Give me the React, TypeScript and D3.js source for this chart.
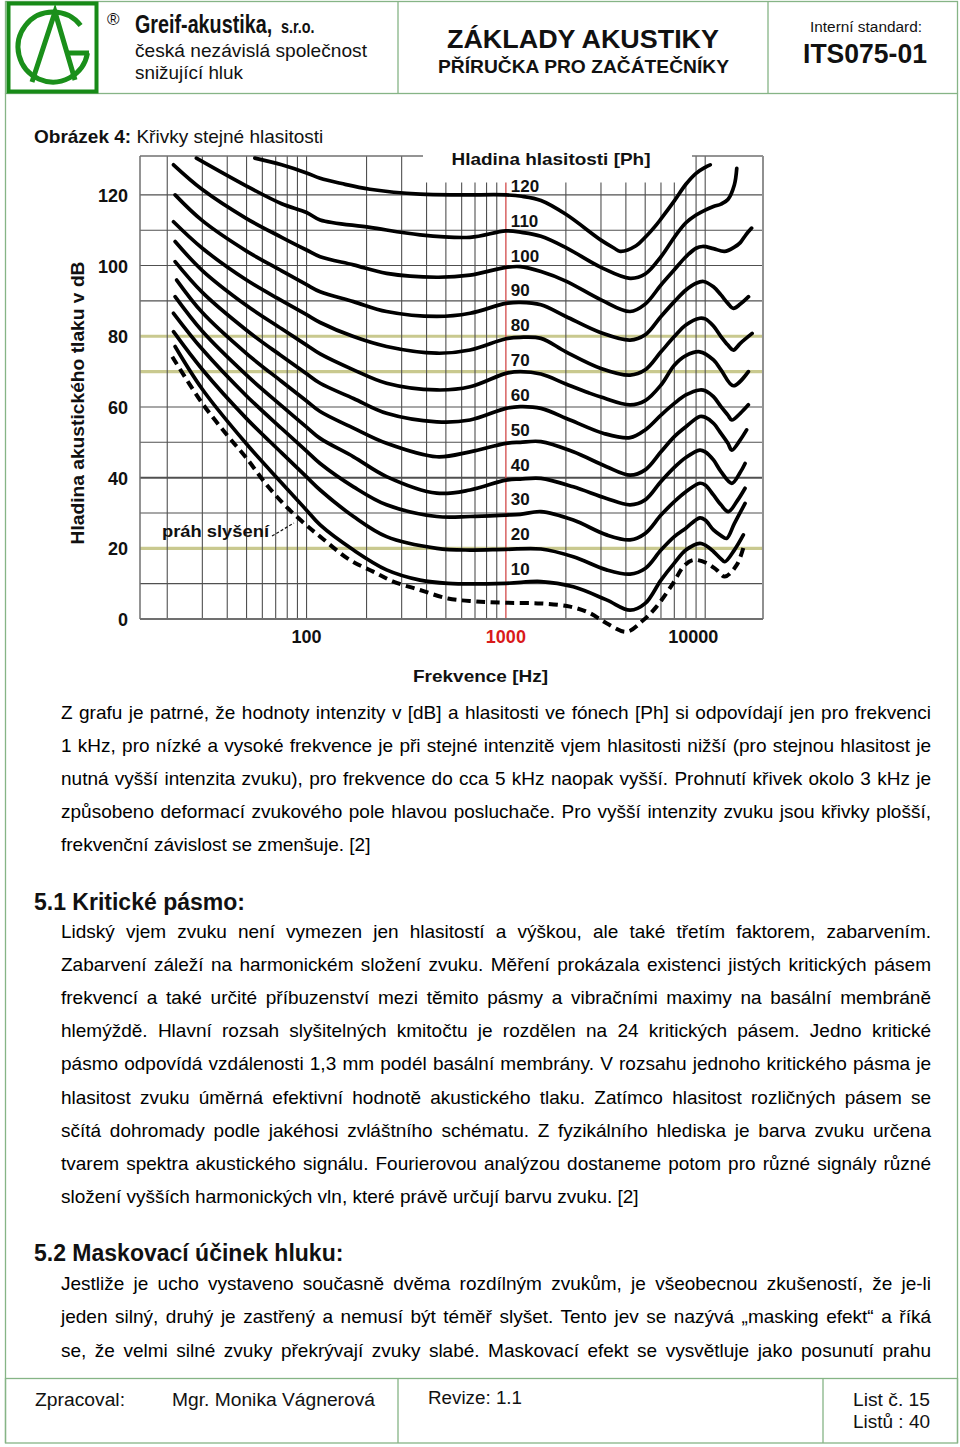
import React, { useLayoutEffect, useRef, useState } from "react";
import * as d3 from "d3";

// ---------- DATA ----------
type Pt = [number, number]; // [frequency Hz, sound pressure level dB]

const phonLevels = [120, 110, 100, 90, 80, 70, 60, 50, 40, 30, 20, 10];

const phon120: Pt[] = [[55,130.4],[75,128.5],[100,126.2],[117,124.7],[150,123.2],[208,121.6],[371,120.2],[600,120.0],[1000,120.0],[1200,119.6],[1500,118.4],[2000,114.5],[3000,107.2],[3500,104.9],[3750,104.0],[4500,105.6],[5000,108.0],[5700,111.6],[6000,113.2],[7000,118.3],[8000,123.0],[9000,126.1],[10000,127.8],[10600,128.5]];
const phon110: Pt[] = [[28,130.4],[50,122.5],[75,117.5],[100,115.0],[117,112.9],[208,110.8],[371,108.7],[661,108.0],[1000,109.8],[1200,109.4],[1500,108.3],[2000,105.1],[3000,99.5],[4200,96.4],[5000,97.6],[6000,102.5],[7000,108.0],[8000,112.1],[9000,114.3],[10000,115.7],[11000,116.7],[12000,117.4],[13000,118.7],[14000,122.8],[14400,127.5]];
const phon100: Pt[] = [[21.5,128.5],[30,121.5],[50,113.3],[75,108.0],[100,104.4],[117,102.5],[172,100.2],[252,97.8],[450,96.7],[661,97.3],[1000,99.5],[1180,99.7],[1500,98.3],[2000,95.6],[3000,90.3],[4200,87.0],[5000,89.1],[6000,94.5],[7000,98.8],[8000,102.5],[9000,104.9],[9700,105.4],[11000,104.8],[12500,104.0],[14000,105.2],[15000,106.5],[16000,108.7],[17100,110.6]];
const phon90: Pt[] = [[21.9,120.0],[30,112.7],[50,104.1],[75,98.5],[100,94.6],[117,92.6],[172,89.8],[252,87.0],[450,85.6],[661,86.5],[1000,89.3],[1180,89.6],[1500,88.9],[2000,85.6],[3000,81.0],[4200,78.9],[5000,80.4],[6000,85.6],[7000,89.8],[8000,93.1],[9000,95.0],[9800,95.5],[11000,94.0],[12000,91.7],[13000,89.3],[13850,87.9],[15000,89.1],[16500,91.2]];
const phon80: Pt[] = [[21.5,112.4],[30,104.9],[50,95.9],[75,90.1],[100,86.1],[117,83.9],[172,79.9],[252,77.1],[450,75.2],[661,76.1],[1000,79.3],[1180,79.7],[1500,79.4],[2000,75.6],[3000,70.9],[4200,69.0],[5000,70.5],[6000,75.6],[7000,79.9],[8000,83.2],[9400,85.1],[10000,84.9],[11000,82.9],[12000,79.9],[13000,77.5],[13850,76.1],[15000,78.0],[17200,80.8]];
const phon70: Pt[] = [[21.9,106.8],[30,98.6],[50,88.7],[75,82.1],[100,77.5],[117,75.0],[172,70.5],[252,66.7],[450,64.8],[661,65.7],[1000,69.5],[1180,70.0],[1500,69.3],[2000,66.5],[2600,64.0],[3000,62.8],[4200,60.6],[5000,61.8],[6000,66.2],[7000,71.8],[8000,74.5],[9400,75.6],[11000,73.3],[12000,70.5],[13850,66.0],[16470,70.0]];
const phon60: Pt[] = [[21.9,101.1],[30,92.4],[50,81.7],[75,74.4],[100,69.4],[117,66.7],[172,62.4],[252,58.2],[450,55.8],[661,56.3],[1000,59.6],[1180,60.1],[1500,59.6],[2100,56.3],[3100,52.5],[4200,51.3],[5000,53.5],[6000,57.7],[7000,61.0],[8000,63.4],[9400,64.8],[10000,64.6],[11000,62.9],[12000,60.1],[13000,57.7],[13600,56.3],[15000,58.2],[16470,60.6]];
const phon50: Pt[] = [[22.3,95.9],[30,86.7],[50,75.1],[75,67.2],[100,61.7],[117,58.7],[172,54.0],[252,49.7],[450,45.9],[661,47.3],[1000,49.7],[1180,50.0],[1500,50.2],[2180,47.3],[3200,43.1],[4200,40.7],[5000,42.2],[6000,47.3],[7000,51.6],[8000,54.4],[9400,57.3],[10000,57.1],[11000,55.4],[12000,52.5],[13000,49.7],[13600,47.8],[15000,50.7],[16140,53.5]];
const phon40: Pt[] = [[21.9,91.2],[30,81.4],[50,69.0],[75,60.3],[100,54.3],[117,51.1],[172,45.9],[252,40.3],[450,35.6],[661,36.5],[1000,39.3],[1180,39.6],[1500,39.8],[2180,37.4],[3200,34.1],[4200,32.3],[5000,33.7],[6000,38.9],[7000,42.9],[8000,45.7],[9400,47.8],[10000,47.3],[11000,45.0],[12000,41.7],[13600,38.4],[15000,41.5],[15850,44.0]];
const phon30: Pt[] = [[21.5,86.5],[30,76.3],[50,63.1],[75,53.9],[100,47.5],[117,44.0],[172,37.4],[252,32.3],[450,29.0],[661,29.0],[1000,29.4],[1180,29.6],[1500,30.4],[2180,28.0],[3200,23.8],[4200,22.4],[5000,24.2],[6000,29.4],[7000,33.2],[8000,36.0],[9400,38.4],[10000,37.9],[11000,35.1],[12000,32.3],[13070,30.4],[14500,33.5],[15850,37.0]];
const phon20: Pt[] = [[21.5,81.3],[30,70.6],[50,56.7],[75,47.0],[100,40.2],[117,36.5],[172,29.0],[252,23.3],[450,20.0],[661,19.5],[1000,19.7],[1500,19.8],[2180,17.6],[3200,13.9],[4200,12.7],[5000,14.3],[6000,19.5],[7000,23.3],[8000,25.7],[9400,28.6],[10000,28.0],[11000,25.2],[12000,23.6],[12800,22.8],[14000,27.0],[15850,32.7]];
const phon10: Pt[] = [[21.9,77.1],[30,65.0],[50,49.5],[75,38.5],[100,30.8],[117,26.6],[172,19.5],[252,13.9],[371,11.0],[512,10.1],[1000,10.1],[1500,10.6],[2180,9.1],[3200,5.4],[4200,2.5],[5000,4.4],[6000,11.0],[7000,15.8],[8000,19.5],[9400,21.4],[10000,20.9],[11000,19.1],[12000,17.0],[12540,16.2],[14000,19.5],[15540,23.8]];
const thresholdCurve: Pt[] = [[21.2,74.2],[30,61.0],[40,52.0],[50,45.5],[63,38.0],[80,31.5],[100,26.5],[117,23.3],[165,16.7],[216,13.4],[272,10.6],[371,8.2],[512,5.8],[700,5.0],[1000,4.6],[1500,4.4],[2100,3.5],[2650,1.6],[3200,-1.2],[4040,-3.6],[4900,-0.3],[5700,3.5],[6900,10.1],[7770,14.8],[8700,16.7],[10200,15.8],[11400,13.9],[12540,12.0],[14400,15.3],[15700,21.0]];

const contours: Pt[][] = [phon120, phon110, phon100, phon90, phon80, phon70, phon60, phon50, phon40, phon30, phon20, phon10];

const freqGridLines = [20,30,40,50,60,70,80,90,100,200,300,400,500,600,700,800,900,2000,3000,4000,5000,6000,7000,8000,9000,10000];
const referenceFreq = 1000;
const dbGridLines = [10,20,30,40,50,60,70,80,90,100,110,120];
const oliveDbLines = [20,70,80];
const yTicks = [0,20,40,60,80,100,120];
const xTicks = [100,1000,10000];

const paragraph1 = [
  "Z grafu je patrné, že hodnoty intenzity v [dB] a hlasitosti ve fónech [Ph] si odpovídají jen pro frekvenci",
  "1 kHz, pro nízké a vysoké frekvence je při stejné intenzitě vjem hlasitosti nižší (pro stejnou hlasitost je",
  "nutná vyšší intenzita zvuku), pro frekvence do cca 5 kHz naopak vyšší. Prohnutí křivek okolo 3 kHz je",
  "způsobeno deformací zvukového pole hlavou posluchače. Pro vyšší intenzity zvuku jsou křivky plošší,",
  "frekvenční závislost se zmenšuje. [2]",
];
const paragraph2 = [
  "Lidský vjem zvuku není vymezen jen hlasitostí a výškou, ale také třetím faktorem, zabarvením.",
  "Zabarvení záleží na harmonickém složení zvuku. Měření prokázala existenci jistých kritických pásem",
  "frekvencí a také určité příbuzenství mezi těmito pásmy a vibračními maximy na basální membráně",
  "hlemýždě. Hlavní rozsah slyšitelných kmitočtu je rozdělen na 24 kritických pásem. Jedno kritické",
  "pásmo odpovídá vzdálenosti 1,3 mm podél basální membrány. V rozsahu jednoho kritického pásma je",
  "hlasitost zvuku úměrná efektivní hodnotě akustického tlaku. Zatímco hlasitost rozličných pásem se",
  "sčítá dohromady podle jakéhosi zvláštního schématu. Z fyzikálního hlediska je barva zvuku určena",
  "tvarem spektra akustického signálu. Fourierovou analýzou dostaneme potom pro různé signály různé",
  "složení vyšších harmonických vln, které právě určují barvu zvuku. [2]",
];
const paragraph3 = [
  "Jestliže je ucho vystaveno současně dvěma rozdílným zvukům, je všeobecnou zkušeností, že je-li",
  "jeden silný, druhý je zastřený a nemusí být téměř slyšet. Tento jev se nazývá „masking efekt“ a říká",
  "se, že velmi silné zvuky překrývají zvuky slabé. Maskovací efekt se vysvětluje jako posunutí prahu",
];

// ---------- HELPERS ----------
const SANS = "'Liberation Sans', Arial, Helvetica, sans-serif";
const GREEN_LINE = "#86b486";
const BODY_FS = 19;

function JLine({ x, y, width, text, justify }: { x: number; y: number; width: number; text: string; justify: boolean }) {
  const ref = useRef<SVGTextElement>(null);
  const [ws, setWs] = useState(0);
  useLayoutEffect(() => {
    if (!justify || !ref.current) return;
    const natural = ref.current.getComputedTextLength();
    const spaces = (text.match(/ /g) || []).length;
    if (spaces > 0) setWs((width - natural) / spaces);
  }, [text, width, justify]);
  return (
    <text ref={ref} x={x} y={y} fontSize={BODY_FS} fontFamily={SANS} fill="#000" style={{ wordSpacing: `${ws}px` }}>
      {text}
    </text>
  );
}

function Paragraph({ lines, x, y0, lh, width, lastJustified = false }: { lines: string[]; x: number; y0: number; lh: number; width: number; lastJustified?: boolean }) {
  return (
    <g>
      {lines.map((t, i) => (
        <JLine key={i} x={x} y={y0 + i * lh} width={width} text={t} justify={lastJustified || i < lines.length - 1} />
      ))}
    </g>
  );
}

// ---------- CHART ----------
function Chart() {
  const xs = d3.scaleLog().domain([14.6, 19500]).range([140, 763]);
  const ys = d3.scaleLinear().domain([0, 131]).range([619, 156]);
  const line = d3
    .line<Pt>()
    .x((d) => xs(d[0]))
    .y((d) => ys(d[1]))
    .curve(d3.curveCatmullRom.alpha(0.5));

  const [x0, x1] = xs.range();
  const yTop = ys(131);
  const yBot = ys(0);
  const boxL = 423, boxR = 692, boxB = 182.5;
  const bold = { fontFamily: SANS, fontWeight: 700 as const };

  return (
    <g>
      <rect x={x0} y={yTop} width={x1 - x0} height={yBot - yTop} fill="#fff" />
      {/* horizontal grid */}
      {dbGridLines.map((v) => (
        <line key={"h" + v} x1={x0} x2={x1} y1={ys(v)} y2={ys(v)} stroke="#505050" strokeWidth={v === 40 ? 2 : 1.1} />
      ))}
      {oliveDbLines.map((v) => (
        <line key={"o" + v} x1={x0} x2={x1} y1={ys(v)} y2={ys(v)} stroke="#c9c98f" strokeWidth={3.2} />
      ))}
      {/* vertical grid */}
      {freqGridLines.map((f) => (
        <line key={"v" + f} x1={xs(f)} x2={xs(f)} y1={yTop} y2={yBot} stroke="#505050" strokeWidth={1.1} />
      ))}
      <line x1={xs(referenceFreq)} x2={xs(referenceFreq)} y1={yTop} y2={yBot} stroke="#d24a4a" strokeWidth={1.3} />
      {/* title box */}
      <rect x={boxL} y={yTop - 6} width={boxR - boxL} height={boxB - yTop + 6} fill="#fff" />
      {/* frame */}
      <line x1={x0} x2={boxL} y1={yTop} y2={yTop} stroke="#707070" strokeWidth={1.3} />
      <line x1={boxR} x2={x1} y1={yTop} y2={yTop} stroke="#707070" strokeWidth={1.3} />
      <line x1={x0} x2={x0} y1={yTop} y2={yBot} stroke="#707070" strokeWidth={1.5} />
      <line x1={x1} x2={x1} y1={yTop} y2={yBot} stroke="#909090" strokeWidth={2} />
      <line x1={x0} x2={x1} y1={yBot} y2={yBot} stroke="#707070" strokeWidth={2.2} />

      {/* contours */}
      {contours.map((c, i) => (
        <path key={"c" + i} d={line(c) || ""} fill="none" stroke="#000" strokeWidth={3.7} strokeLinecap="round" strokeLinejoin="round" />
      ))}
      <path d={line(thresholdCurve) || ""} fill="none" stroke="#000" strokeWidth={4} strokeDasharray="9 5.5" />

      {/* phon labels */}
      {phonLevels.map((p) => (
        <text key={"l" + p} x={xs(referenceFreq) + 5} y={ys(p) - 3 - (120 - p) * 0.05} fontSize={17} {...bold} fill="#111">
          {p}
        </text>
      ))}
      <text x={551} y={165} fontSize={16.5} {...bold} fill="#111" textAnchor="middle" textLength={199} lengthAdjust="spacingAndGlyphs">
        Hladina hlasitosti [Ph]
      </text>

      {/* y ticks */}
      {yTicks.map((v) => (
        <text key={"yt" + v} x={128} y={ys(v) + 7} fontSize={18} {...bold} fill="#111" textAnchor="end">
          {v}
        </text>
      ))}
      {/* x ticks */}
      {xTicks.map((f) => (
        <text key={"xt" + f} x={xs(f) + (f === 10000 ? -12 : 0)} y={643} fontSize={18} {...bold} fill={f === referenceFreq ? "#d91a1a" : "#111"} textAnchor="middle">
          {f}
        </text>
      ))}
      <text x={480.5} y={682} fontSize={17} {...bold} fill="#111" textAnchor="middle" textLength={135} lengthAdjust="spacingAndGlyphs">
        Frekvence [Hz]
      </text>
      <text transform="translate(84,403) rotate(-90)" fontSize={17.5} {...bold} fill="#111" textAnchor="middle" textLength={283} lengthAdjust="spacingAndGlyphs">
        Hladina akustického tlaku v dB
      </text>
      <text x={162} y={537} fontSize={16.5} {...bold} fill="#111" textLength={107} lengthAdjust="spacingAndGlyphs">
        práh slyšení
      </text>
      <line x1={272} y1={536} x2={294} y2={523} stroke="#111" strokeWidth={1.2} strokeDasharray="3 2" />
    </g>
  );
}

// ---------- PAGE ----------
function Logo() {
  const cx = 53, cy = 47, r = 35;
  const a0 = (10 * Math.PI) / 180;
  const a1 = (-38 * Math.PI) / 180 + 2 * Math.PI;
  const arc = d3.arc()({ innerRadius: r, outerRadius: r, startAngle: a0 + Math.PI / 2, endAngle: a1 + Math.PI / 2 }) || "";
  return (
    <g>
      <rect x={8.5} y={3.5} width={88} height={88} fill="none" stroke="#178a17" strokeWidth={4} />
      <path d={arc} transform={`translate(${cx},${cy})`} fill="none" stroke="#1a8f1a" strokeWidth={5} />
      <path d={`M32,82 L55,12 L75,80`} fill="none" stroke="#1a8f1a" strokeWidth={5} strokeLinejoin="miter" />
      <path d={`M66,53 L89,53`} fill="none" stroke="#1a8f1a" strokeWidth={5} />
    </g>
  );
}

export default function App() {
  return (
    <svg width={960} height={1447} viewBox="0 0 960 1447" style={{ position: "absolute", left: 0, top: 0, display: "block", background: "#fff" }}>
      <rect x={0} y={0} width={960} height={1447} fill="#fff" />
      {/* header frame */}
      <rect x={5.5} y={1.5} width={952} height={92} fill="none" stroke={GREEN_LINE} strokeWidth={1.3} />
      <line x1={398} x2={398} y1={1.5} y2={93.5} stroke={GREEN_LINE} strokeWidth={1.3} />
      <line x1={768} x2={768} y1={1.5} y2={93.5} stroke={GREEN_LINE} strokeWidth={1.3} />
      {/* body frame */}
      <line x1={5.5} x2={5.5} y1={93.5} y2={1443} stroke={GREEN_LINE} strokeWidth={1.3} />
      <line x1={957.5} x2={957.5} y1={93.5} y2={1443} stroke={GREEN_LINE} strokeWidth={1.3} />
      <Logo />
      <text x={107} y={25} fontSize={17} fontFamily={SANS} fill="#111">®</text>
      <text transform="translate(135,33) scale(0.79,1)" fontSize={25} fontFamily={SANS} fontWeight={700} fill="#111">Greif-akustika,</text>
      <text transform="translate(281,33) scale(0.8,1)" fontSize={18} fontFamily={SANS} fontWeight={700} fill="#111">s.r.o.</text>
      <text x={135} y={57} fontSize={19} fontFamily={SANS} fill="#111" textLength={232} lengthAdjust="spacingAndGlyphs">česká nezávislá společnost</text>
      <text x={135} y={79} fontSize={19} fontFamily={SANS} fill="#111" textLength={108} lengthAdjust="spacingAndGlyphs">snižující hluk</text>
      <text x={583} y={48} fontSize={25} fontFamily={SANS} fontWeight={700} fill="#111" textAnchor="middle" textLength={272} lengthAdjust="spacingAndGlyphs">ZÁKLADY AKUSTIKY</text>
      <text x={583.5} y={73} fontSize={18} fontFamily={SANS} fontWeight={700} fill="#111" textAnchor="middle" textLength={291} lengthAdjust="spacingAndGlyphs">PŘÍRUČKA PRO ZAČÁTEČNÍKY</text>
      <text x={866} y={32} fontSize={15.5} fontFamily={SANS} fill="#111" textAnchor="middle" textLength={112} lengthAdjust="spacingAndGlyphs">Interní standard:</text>
      <text x={865} y={63} fontSize={28} fontFamily={SANS} fontWeight={700} fill="#111" textAnchor="middle" textLength={124} lengthAdjust="spacingAndGlyphs">ITS075-01</text>

      {/* figure caption */}
      <text x={34} y={143} fontSize={19} fontFamily={SANS} fill="#111">
        <tspan fontWeight={700}>Obrázek 4:</tspan>
        <tspan> Křivky stejné hlasitosti</tspan>
      </text>

      <Chart />

      <Paragraph lines={paragraph1} x={61} y0={719} lh={33} width={870} />
      <text x={34} y={910} fontSize={23} fontFamily={SANS} fontWeight={700} fill="#111">5.1 Kritické pásmo:</text>
      <Paragraph lines={paragraph2} x={61} y0={938} lh={33.1} width={870} />
      <text x={34} y={1261} fontSize={23} fontFamily={SANS} fontWeight={700} fill="#111">5.2 Maskovací účinek hluku:</text>
      <Paragraph lines={paragraph3} x={61} y0={1290} lh={33.3} width={870} lastJustified />

      {/* footer */}
      <rect x={5.5} y={1378.5} width={952} height={64.5} fill="none" stroke={GREEN_LINE} strokeWidth={1.3} />
      <line x1={398} x2={398} y1={1378.5} y2={1443} stroke={GREEN_LINE} strokeWidth={1.3} />
      <line x1={823} x2={823} y1={1378.5} y2={1443} stroke={GREEN_LINE} strokeWidth={1.3} />
      <text x={35} y={1406} fontSize={18} fontFamily={SANS} fill="#111" textLength={90} lengthAdjust="spacingAndGlyphs">Zpracoval:</text>
      <text x={172} y={1406} fontSize={18} fontFamily={SANS} fill="#111" textLength={203} lengthAdjust="spacingAndGlyphs">Mgr. Monika Vágnerová</text>
      <text x={428} y={1404} fontSize={18} fontFamily={SANS} fill="#111" textLength={94} lengthAdjust="spacingAndGlyphs">Revize: 1.1</text>
      <text x={853} y={1406} fontSize={18} fontFamily={SANS} fill="#111" textLength={77} lengthAdjust="spacingAndGlyphs">List č. 15</text>
      <text x={853} y={1428} fontSize={18} fontFamily={SANS} fill="#111" textLength={77} lengthAdjust="spacingAndGlyphs">Listů : 40</text>
    </svg>
  );
}
